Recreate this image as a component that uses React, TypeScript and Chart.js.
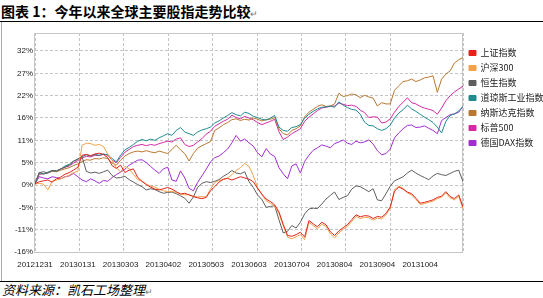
import React, { useEffect, useRef } from 'react';
import { Chart, registerables } from 'chart.js';

Chart.register(...registerables);

const seriesNames = ['上证指数', '沪深300', '恒生指数', '道琼斯工业指数', '纳斯达克指数', '标普500', '德国DAX指数'];
const seriesColors = ['#E3241B', '#F2A24A', '#5E5E5E', '#1F8C8E', '#B9782F', '#D52AA6', '#A22ED2'];

const xLabels = ['20121231', '20130131', '20130303', '20130402', '20130503', '20130603', '20130704', '20130804', '20130904', '20131004'];
const yTicks = [-16.2, -10.8, -5.4, 0, 5.4, 10.8, 16.2, 21.6, 27, 32.4];

const shanghai = [
  0.3, 0.8, 1.0, 1.2, 0.7, 1.5, 1.9, 2.6, 3.0, 3.6,
  4.3, 7.2, 7.4, 7.1, 7.5, 7.7, 7.4, 6.6, 4.7, 4.0,
  4.8, 3.0, 3.6, 3.9, 1.8, 0.9, 0.1, -0.5, -1.0, -1.2,
  -0.9, -0.6, -1.0, -1.6, -2.2, -2.0, -2.4, -2.8, -3.1, -3.3,
  -3.0, -1.4, -0.4, 0.7, 1.4, 1.6, 1.2, 1.6, 2.0, 1.7,
  1.4, 0.8, -0.8, -2.2, -3.4, -4.0, -4.8, -6.5, -9.5, -12.2,
  -12.4, -12.0, -11.4, -12.6, -8.6, -9.4, -10.1, -9.0, -9.6, -11.3,
  -12.2, -11.1, -10.3, -9.6, -8.4, -7.2, -7.7, -7.4, -7.5, -8.1,
  -7.6, -7.8, -6.9, -5.3, -1.5, -0.5, -1.0, -1.7, -2.1, -3.2,
  -4.4, -4.2, -3.9, -3.6, -3.0, -2.7, -1.6, -2.8, -3.3, -2.4,
  -5.3,
];

const csi300 = [
  0.2, 0.4, 0.2, -1.2, 0.9, 1.2, 1.5, 1.9, 2.4, 3.0,
  3.3, 9.6, 10.1, 10.0, 9.6, 9.8, 9.3, 7.5, 6.0, 4.2,
  3.2, 4.5, 3.9, 2.6, 1.3, 0.9, 0.2, -0.3, -0.5, -1.0,
  -1.4, -1.6, -1.5, -1.8, -2.1, -2.4, -2.3, -2.7, -2.9, -2.8,
  -2.9, -1.0, 0.6, 1.1, 1.3, 1.7, 2.5, 3.5, 4.2, 5.2,
  4.5, 2.3, -0.6, -2.3, -3.8, -4.4, -5.2, -6.9, -9.9, -12.6,
  -13.0, -12.5, -12.0, -13.2, -9.0, -9.8, -10.6, -9.5, -10.0, -11.8,
  -12.8, -11.6, -10.7, -10.0, -8.8, -7.6, -8.1, -7.8, -7.9, -8.5,
  -8.0, -8.2, -7.2, -5.6, -1.1, -0.3, -0.8, -1.9, -2.4, -3.5,
  -4.7, -4.5, -4.2, -3.9, -3.3, -2.9, -1.9, -3.1, -3.6, -2.7,
  -5.8,
];

const hangSeng = [
  0.3, 3.0, 3.2, 2.9, 3.5, 3.4, 3.9, 4.3, 4.8, 5.7,
  6.3, 6.8, 3.3, 2.9, 3.1, 2.8, 3.2, 3.6, 2.3, 1.7,
  1.8, 2.1, 1.3, 0.7, 0.1, -0.4, -1.2, -0.9, -1.1, -1.6,
  -2.0, -1.8, -1.7, -2.1, -2.6, -3.2, -4.4, -2.9, -0.6, 0.4,
  0.8, 0.6, 0.9, 1.3, 2.1, 2.7, 3.5, 2.9, 2.7, 3.2,
  0.8, -0.6, -2.4, -3.5, -5.4, -5.2, -5.0, -8.4, -11.6, -11.2,
  -9.8, -10.4, -9.0, -7.0, -5.8, -5.6, -5.7, -4.6, -3.4, -2.5,
  -1.7, -3.5, -3.0, -2.6, -1.0, -0.2, -0.4, -1.0, -1.6, -0.9,
  -3.6, -3.8, -2.1, -0.3, 1.0, 1.5, 2.0, 2.9, 3.6, 2.9,
  2.3, 1.8, 1.3, 2.2, 2.8, 2.5, 2.3, 2.8, 3.3, 3.6,
  0.8,
];

const dowJones = [
  0.3, 3.0, 2.6, 3.1, 3.5, 3.4, 3.8, 4.6, 5.0, 5.8,
  6.2, 6.9, 7.3, 7.0, 7.4, 7.2, 7.5, 7.3, 6.4, 5.6,
  7.2, 8.5, 9.1, 9.8, 10.6, 11.0, 10.7, 11.1, 10.8, 11.4,
  11.9, 12.4, 12.0, 13.2, 13.9, 12.8, 12.4, 12.0, 12.8, 13.3,
  13.6, 14.0, 15.0, 15.5, 16.2, 16.8, 17.5, 17.0, 16.7, 17.6,
  17.3, 16.6, 16.3, 15.9, 15.7, 16.2, 16.8, 14.0, 13.2, 13.0,
  13.9, 14.1, 14.6, 16.2, 17.1, 17.8, 18.4, 18.8, 18.9, 19.1,
  18.8, 20.1, 19.3, 18.7, 18.3, 18.1, 17.1, 15.2, 14.4, 14.3,
  13.6, 13.2, 13.6, 14.5, 16.2, 17.4, 18.2, 19.3, 18.4, 17.8,
  17.1, 16.4, 15.8, 15.1, 14.0, 12.6, 15.4, 16.8, 17.2, 17.9,
  19.0,
];

const nasdaq = [
  0.3, 3.0, 2.7, 3.0, 3.3, 3.2, 3.6, 3.9, 4.2, 4.7,
  5.1, 5.7, 6.1, 6.0, 6.4, 6.3, 6.6, 6.4, 5.3, 4.8,
  6.0, 7.0, 7.6, 8.0, 8.2, 8.0, 8.3, 8.0, 7.8, 8.2,
  7.9, 7.6, 8.6, 9.6, 8.5, 7.6, 5.8, 7.6, 8.9, 9.5,
  10.0, 10.5, 13.2, 13.8, 14.6, 15.1, 15.8, 16.0, 15.6, 15.9,
  15.7, 16.2, 15.9, 15.5, 15.8, 15.9, 16.3, 13.6, 12.4, 12.1,
  13.2, 13.6, 14.3, 16.5, 17.6, 18.3, 19.0, 19.4, 19.0, 19.1,
  19.6, 22.2, 21.4, 21.6, 22.0, 21.8, 21.1, 21.7, 21.3, 21.0,
  19.1, 19.9, 19.6, 19.6, 22.9, 24.0, 25.0, 25.2, 25.6, 25.0,
  25.4, 25.9, 26.1, 26.4, 22.4, 25.6, 26.8, 27.6, 29.5, 30.3,
  30.8,
];

const sp500 = [
  0.3, 2.6, 2.7, 2.9, 3.4, 3.3, 3.9, 4.3, 4.6, 5.3,
  5.9, 6.6, 6.9, 6.8, 7.2, 7.1, 7.4, 7.2, 6.0, 5.4,
  6.7, 7.9, 8.6, 9.3, 9.6, 9.8, 9.5, 9.8, 9.6, 10.0,
  10.3, 10.6, 10.4, 11.1, 11.4, 9.8, 9.3, 9.6, 10.4, 11.2,
  12.3, 13.0, 14.2, 14.8, 15.4, 15.9, 16.9, 16.3, 16.0, 16.6,
  16.2, 15.8, 15.1, 14.6, 15.0, 15.4, 15.9, 12.9, 11.0, 11.6,
  12.4, 13.0, 13.6, 15.4, 16.4, 17.2, 18.0, 18.6, 18.8, 19.0,
  19.1, 19.8, 19.5, 19.2, 19.3, 19.0, 18.1, 17.5, 16.3, 16.5,
  16.4, 15.0, 15.2, 16.0, 17.6, 19.0, 20.0, 21.1, 19.9, 19.6,
  19.0, 18.6, 18.3, 18.0, 17.1, 18.6, 20.4, 21.6, 22.5, 23.2,
  23.9,
];

const dax = [
  0.3, 2.0, 1.7, 1.5, 2.0, 1.8, 1.5, 2.0, 2.2, 2.8,
  2.0, 1.2, 0.8, 1.5, 1.0, 0.4, 1.1, 0.9, 1.8, 2.5,
  3.1, 3.8, 4.8, 5.4, 6.0, 6.1, 5.4, 4.5, 3.6, 2.8,
  3.9, 4.3, 1.2, 0.9, 3.4, 1.7, -0.8, -1.4, 0.6, 2.2,
  3.8, 5.6, 6.6, 7.0, 7.8, 8.7, 10.2, 12.0, 10.6, 11.1,
  10.2, 9.4, 7.8, 6.8, 8.8, 7.5, 6.9, 4.2, 2.7, 1.5,
  4.6, 5.1, 2.9, 5.7, 7.2, 8.4, 9.0, 9.7, 9.4, 9.0,
  10.0, 10.4, 10.9, 10.1, 9.8, 10.6, 10.2, 10.4, 10.9, 9.9,
  8.3, 7.3, 7.6, 8.7, 11.4, 12.6, 13.6, 14.4, 14.5, 13.9,
  14.0, 14.3, 13.7, 13.2, 12.4, 15.6, 16.3, 17.0, 17.2, 17.6,
  19.0,
];

const seriesValues = [shanghai, csi300, hangSeng, dowJones, nasdaq, sp500, dax];

export default function App() {
  const ref = useRef<HTMLCanvasElement>(null);

  useEffect(() => {
    document.body.style.margin = '0';
    const canvas = ref.current;
    if (!canvas) return;
    const pointIndex = shanghai.map((_, i) => i);
    const framePlugin = {
      id: 'frame',
      beforeDatasetsDraw(chart: any) {
        const { ctx, chartArea: a } = chart;
        ctx.save();
        ctx.strokeStyle = '#c6c6c6';
        ctx.lineWidth = 1;
        ctx.strokeRect(Math.round(a.left) - 0.5, Math.round(a.top) + 0.5, Math.round(a.right - a.left), Math.round(a.bottom - a.top) - 1);
        ctx.restore();
      },
    };
    const chart = new Chart(canvas, {
      type: 'line',
      data: {
        labels: pointIndex,
        datasets: seriesNames.map((name, i) => ({
          label: name,
          data: seriesValues[i],
          borderColor: seriesColors[i],
          backgroundColor: seriesColors[i],
          borderWidth: 1,
          pointRadius: 0,
          tension: 0,
          xAxisID: 'x',
          yAxisID: 'y',
        })),
      },
      options: {
        animation: false,
        responsive: false,
        devicePixelRatio: 1,
        layout: { padding: { top: 10, right: 0, bottom: 0, left: 0 } },
        plugins: {
          tooltip: { enabled: false },
          legend: {
            position: 'right',
            align: 'start',
            maxWidth: 80,
            title: { display: true, text: ' ', font: { size: 9.5, lineHeight: 1 }, padding: 0 },
            labels: {
              boxWidth: 7,
              boxHeight: 5,
              padding: 6,
              color: '#222',
              font: { family: '"Noto Sans CJK SC", sans-serif', size: 9 },
            },
          },
        },
        scales: {
          x: {
            type: 'linear',
            min: 0,
            max: 100,
            position: 'bottom',
            grid: { display: false, drawTicks: false },
            border: { display: false },
            ticks: {
              stepSize: 10,
              autoSkip: false,
              maxRotation: 0,
              padding: 7,
              color: '#222',
              font: { family: '"Liberation Sans", Arial, sans-serif', size: 8 },
              callback: (v: any) => {
                const i = Math.round(Number(v) / 10);
                return i < xLabels.length ? xLabels[i] : '';
              },
            },
            afterFit: (s: any) => { s.height = 27; },
          },
          x2: {
            type: 'linear',
            min: 0,
            max: 100,
            position: 'top',
            grid: { color: '#c4c4c4', drawTicks: false, lineWidth: 1 },
            border: { display: false, dash: [3, 2] },
            ticks: { display: false, stepSize: 10.374 },
            afterFit: (s: any) => { s.height = 0; },
          },
          y: {
            type: 'linear',
            min: -16.44,
            max: 36.75,
            grid: { color: '#c4c4c4', drawTicks: false, lineWidth: 1 },
            border: { display: false, dash: [3, 2] },
            afterBuildTicks: (s: any) => { s.ticks = yTicks.map((v) => ({ value: v })); },
            ticks: {
              padding: 2,
              color: '#222',
              font: { family: '"Liberation Sans", Arial, sans-serif', size: 8 },
              callback: (v: any) => Math.round(Number(v)) + '%',
            },
            afterFit: (s: any) => { s.width = 35; },
          },
        },
      },
      plugins: [framePlugin],
    } as any);
    return () => chart.destroy();
  }, []);

  return (
    <div style={{ position: 'relative', width: 543, height: 298, background: '#fff', overflow: 'hidden' }}>
      <div style={{ position: 'absolute', left: 1, top: 0, height: 21, lineHeight: '22px', fontFamily: '"Noto Sans CJK SC", sans-serif', fontWeight: 700, fontSize: 14, color: '#000', whiteSpace: 'nowrap' }}>
        图表 1：今年以来全球主要股指走势比较<span style={{ fontWeight: 400, fontSize: 9, color: '#777' }}>↵</span>
      </div>
      <div style={{ position: 'absolute', left: 0, top: 21, width: 543, height: 1, background: '#000' }} />
      <div style={{ position: 'absolute', left: 1, top: 22, width: 1, height: 259, background: '#a8a8a8' }} />
      <canvas ref={ref} width={543} height={257} style={{ position: 'absolute', left: 0, top: 23, width: 543, height: 257 }} />
      <div style={{ position: 'absolute', left: 0, top: 281, width: 543, height: 1, background: '#000' }} />
      <div style={{ position: 'absolute', left: 2, top: 282, height: 16, lineHeight: '16px', fontFamily: '"Noto Sans CJK SC", sans-serif', fontStyle: 'italic', fontSize: 13, color: '#000', whiteSpace: 'nowrap' }}>
        资料来源：凯石工场整理<span style={{ fontStyle: 'normal', fontSize: 9, color: '#777' }}>↵</span>
      </div>
    </div>
  );
}
